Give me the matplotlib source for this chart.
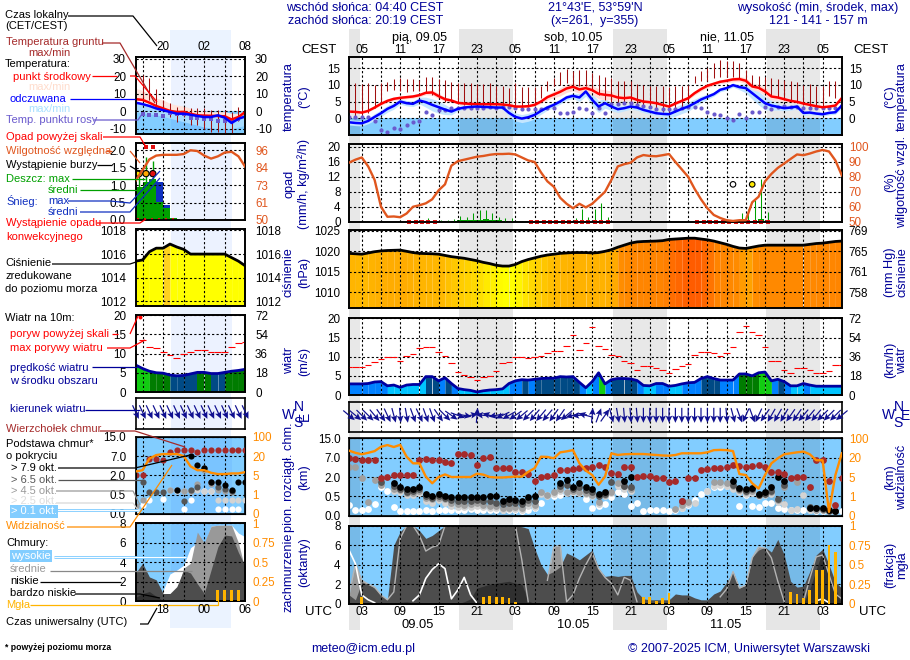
import numpy as np
import matplotlib
matplotlib.use('Agg')
import matplotlib.pyplot as plt
from matplotlib.colors import LinearSegmentedColormap, Normalize

plt.rcParams['font.family'] = ['Liberation Sans', 'DejaVu Sans']

W, H = 910, 660
na = float('nan')
SKY = '#82CDFF'
NAVY = '#000099'
HUM = '#E0561E'
VIS = '#FF8C00'
FOG = '#FFB400'
BROWN = '#A52A2A'
PURPLE = '#6A5ACD'
TICK_FS = 8.4

# ---- main chart, hourly, UTC hours counted from 00 on 09.05
hours = np.arange(1, 79)

temp_mid = [2.0,1.9,1.7,2.2,3.2,4.3,5.2,5.8,6.1,6.3,
            6.5,6.9,7.6,7.7,6.6,5.7,5.3,4.6,4.4,4.3,
            4.2,4.2,4.2,4.2,4.1,3.9,3.5,3.5,3.6,4.0,
            5.0,6.3,7.1,7.9,8.9,9.4,8.6,9.0,8.4,7.3,
            7.0,6.8,6.2,6.0,6.2,5.5,5.0,4.8,4.5,4.0,
            3.5,4.4,5.2,6.0,7.5,8.7,9.7,10.3,10.9,11.2,
            11.6,11.7,11.2,9.5,9.1,8.0,6.5,6.2,5.7,5.2,
            4.9,4.4,4.0,3.6,3.3,3.5,3.8,6.0]
temp_spread = [.3,.3,.3,.3,.4,.4,.5,.5,.5,.5,
               .5,.5,.6,.8,.8,.6,.5,.4,.3,.3,
               .3,.3,.3,.3,.3,.3,.3,.3,.3,.4,
               .6,.8,1.0,1.2,1.2,1.2,1.2,1.3,1.4,1.5,
               1.5,1.3,1.0,.9,.8,.6,.5,.4,.4,.3,
               .3,.4,.5,.5,.6,.6,.6,.6,.6,.6,
               .7,.8,.9,1.0,1.1,1.2,1.0,.8,.6,.5,
               .4,.3,.3,.3,.3,.3,.4,.4]
feel_mid = [-1.2,-1.4,-1.5,-.8,.4,1.5,2.8,3.7,5.0,4.5,
            4.3,5.3,4.8,4.0,3.3,2.6,2.0,2.8,3.2,3.4,
            3.5,3.4,3.3,3.2,3.2,1.6,.4,-.1,.3,1.0,
            2.2,3.2,4.0,5.0,6.2,6.7,6.2,8.0,5.5,3.5,
            4.5,3.5,2.7,3.0,3.5,3.2,2.5,2.0,1.5,1.3,
            1.2,2.0,2.8,3.5,4.5,5.6,6.4,7.2,8.5,9.0,
            9.9,9.3,9.0,7.5,6.0,4.5,3.8,3.4,3.0,3.2,
            3.5,1.6,1.7,1.4,1.2,1.6,1.8,3.8]
feel_spread = [.8,.8,.8,.8,1.0,1.0,1.0,1.0,.8,.8,
               .8,1.0,1.5,1.8,1.8,1.5,1.0,.6,.5,.5,
               .5,.5,.5,.5,.6,1.0,1.2,1.2,1.2,1.2,
               1.0,.8,.8,.8,.8,.8,1.2,1.4,1.8,1.8,
               1.5,1.2,1.0,.8,.8,.8,.8,.8,.8,.8,
               1.0,1.4,1.4,1.4,1.2,1.0,.8,.6,.6,.6,
               .6,.8,1.4,1.8,2.0,2.0,1.4,1.0,.8,.8,
               .8,.8,.6,.6,.6,.6,.6,.8]
soil_max = [10,10.5,10.3,10.5,10,10.5,10.7,11.7,12,11.7,
            11.7,11.5,12.3,12.3,11.7,11.5,10.8,10.5,10.5,10.5,
            10.3,10.3,10.5,9.7,9.7,9,10.5,9.3,9.3,9.3,
            9.7,11,12,13.7,14.7,14,14.3,14.3,13.5,12.9,
            12.3,12,11,11,11,10.3,10,9.7,9.7,9.7,
            9.3,9.5,9.7,10,12.7,14.2,15,16.5,17.3,17.2,
            17.1,16.5,14.5,13,12.7,12.3,12,11.7,11.5,11.2,
            10.7,10,10.2,9.7,9.7,11,11,6.5]
soil_min = [2,0,1,1.5,3,4.5,8,8.3,8,7.8,
            8,8,7.8,7,6,5,5,4.5,4,3.5,
            3.5,3.5,3.5,3,3,3,3,3,3.5,4,
            6,8,9.5,10,10.5,10,9.5,9.5,8,7,
            5.5,5,4.5,4.5,4.5,4,3.5,3,2.5,2,
            1.5,2,3.5,5,10.5,11,11,12,12.3,12.3,
            12.3,12,11.5,9.5,9,7.5,6.5,6.2,5.5,5,
            4.5,4,3.5,3,3,6.5,6,6]
dew_point = [.5,.4,.4,.3,-.9,-3.5,-4,-2.8,-3.2,-2,
             -1,-.7,1.8,1,2.5,2.5,3,3,3,3.2,
             3.2,3.2,3.3,3.2,3.3,3.5,3,2.9,2.8,2.8,
             2.8,3,3,1.7,1.5,1.8,3,2.8,1.6,3,
             1.7,4.3,4.2,4.5,4.5,4,3.7,3.3,2.9,2.8,
             2.7,2.9,3,3.5,3.5,3.1,2,1.3,1.1,.1,
             -.4,1.2,0,2,2,3.5,2.8,3.3,3.7,3.5,
             3.3,3.2,3.2,3,3,3,3.2,4]

humidity = [89.5,91.5,93,87,78,60,53.3,53.5,53,55.5,
            60,61,62.3,65,71,75,87.5,90.5,91.5,92.5,
            93.5,94,94.8,95.3,95.3,95.5,95,93,91,90,
            83,77,73.4,66,62,59,62,59.6,62,66,
            70,78,87,88.5,89.5,93,94.6,94,93.8,94.5,
            95.3,90,85,80,72,65,59,54.5,52.5,51,
            50.5,51,51,63,66.7,77,82,86,89,92,
            95,94.5,95.6,97,98,97,91,81]
rain_max = [0,0,0,0,0,0,0,0,0,0,
            0,0,.9,.3,.4,.4,.6,1.5,1.3,2.2,
            3,3,2.2,1.3,.9,.9,.1,.1,0,0,
            0,0,0,0,0,1,3.3,1.3,3.3,5,
            1.3,0,0,0,0,0,0,0,0,0,
            0,0,0,0,0,0,0,0,0,0,
            0,2.2,3.5,5.8,11.5,2.7,0,0,0,0,
            0,0,0,0,0,0,0,0]
rain_mean = [0,0,0,0,0,0,0,0,0,0,
             0,0,0,0,0,0,.3,.4,.45,.5,
             .55,.6,.45,.4,.2,0,0,0,0,0,
             0,0,0,0,0,0,0,0,0,0,
             0,0,0,0,0,0,0,0,0,0,
             0,0,0,0,0,0,0,0,0,0,
             0,0,0,.3,.7,0,0,0,0,0,
             0,0,0,0,0,0,0,0]
conv_hours = [10,11,12,13,14,29,30,31,32,33,34,35,36,37,38,39,40,41,
              55,56,57,58,59,60,61,62,63,64,65,66]
storm_hours = [61, 64]
storm_level = [10, 10]
storm_colors = ['white', '#FFE800']

pressure = [1019.5,1019.4,1019.3,1019.6,1019.9,1020.1,1020.2,1020.25,1020.3,1020,
            1019.7,1019.5,1019.45,1019.4,1019.3,1019,1018.7,1018.5,1018.3,1018,
            1017.7,1017.3,1017,1016.6,1016.4,1016.4,1016.8,1017.5,1018,1018.4,
            1018.8,1019.1,1019.3,1019.5,1019.6,1019.7,1019.7,1019.7,1019.6,1019.7,
            1020,1020.4,1021,1021.5,1022,1022.3,1022.4,1022.45,1022.5,1022.6,
            1022.9,1023,1023.1,1023.2,1023.2,1023,1022.8,1022.5,1022.1,1021.7,
            1021.2,1020.8,1020.7,1021,1021.3,1021.5,1021.5,1021.5,1021.5,1021.5,
            1021.5,1021.5,1021.7,1021.9,1022,1022.2,1022.4,1022.5]

wind = [2.9,2.9,2.9,3.0,3.4,3.5,2.4,2.6,2.0,2.6,
        2.75,2.75,4.8,4.8,3.7,4.5,3.0,1.7,1.4,1.2,
        .8,1.1,1.3,1.4,1.6,3.0,3.7,4.0,3.9,4.1,
        4.3,4.4,4.4,4.8,4.7,4.8,3.3,1.9,3.5,5.8,
        2.9,4.0,4.3,4.3,4.2,3.8,2.5,2.4,3.0,3.0,
        2.3,2.5,2.9,3.2,3.3,4.3,4.8,4.3,3.9,3.9,
        3.9,5.5,5.5,5.0,5.8,6.0,3.7,4.1,3.5,2.4,
        2.4,3.0,2.6,2.3,2.3,2.3,2.3,2.3]
gust = [7.25,7.4,7.4,7.8,8.7,9.3,9.9,9.9,9,10.3,
        10.7,12.3,12.5,12.5,11.2,10.1,8.3,5.9,5.1,4.6,
        3.8,4.6,5,6.2,8.3,8.6,9.9,9.9,9.6,9.9,
        10.3,11.1,11.6,11.6,12.7,15.6,11.7,13.5,17.7,12.7,
        12,10.4,10.2,8.8,8.3,6.5,7.6,7.6,7,6.5,
        5.7,6.7,7.6,8,10.4,11.2,11.2,11,10.2,10.9,
        12.5,16.4,18,16.4,15.6,12.5,8.8,9,6.6,5.7,
        7,7,6.5,5.7,5.7,6.2,7.8,7.8]
wind_dir = [310,310,315,315,320,325,335,345,355,350,
            340,335,340,340,325,315,305,290,280,260,
            185,95,105,80,65,60,55,50,45,40,
            40,40,35,35,50,75,85,105,185,200,
            215,345,350,355,355,355,0,0,0,0,
            0,0,0,0,0,0,0,0,0,355,
            345,340,25,340,25,35,30,30,30,35,
            35,40,40,40,45,45,45,50]

cloud_top = [7,6.55,6.3,6.3,6.3,1.9,2.1,2.6,2.4,2.4,
             2.4,6.5,6.6,6.3,6.4,6,5.7,8.5,8.5,8.3,
             5,7,7.1,4.4,4.3,4.3,3.3,3.3,2.9,1.7,
             2,2.3,2.5,3.9,3.9,4,4.3,4.2,4.5,5,
             4.7,3,2.9,4.5,4.7,2.1,2.2,2.2,1.9,1.9,
             1.6,1.7,.39,1.9,1.9,3.8,4,4.3,4.3,4.5,
             5.1,4.9,4.7,4.9,5.1,4.5,3.4,3.3,2.8,1.9,
             2.1,2.1,1.2,6.5,6.3,1.7,.28,1.9]
base_79 = [na,na,na,na,na,na,na,1.5,1.25,1.05,
           1.1,1.25,.65,.55,.65,.55,.49,.49,.49,.49,
           .49,.49,.55,.55,.38,.42,.41,.38,.49,.5,
           na,na,na,1.55,1.8,1.2,1.55,1.2,1.05,.65,
           .8,na,na,1.7,2.1,na,na,na,na,na,
           na,na,na,na,na,na,na,na,na,na,
           1.7,1.15,1.05,1.15,.65,.8,1.2,2.1,1.7,na,
           na,na,.2,.2,.19,.14,.13,na]
base_65 = [na,na,na,na,na,1.6,na,1.3,1.1,.85,
           .9,1.1,.52,.47,.55,.47,.4,.38,.38,.38,
           .4,.38,.38,.34,.3,.32,.32,.3,.4,.38,
           na,na,na,1.3,1.4,1.05,1.2,1,.85,.5,
           .66,1.6,na,1.3,1.25,na,na,na,na,na,
           na,na,.39,na,na,na,na,na,na,na,
           1.4,1.05,.95,1.05,.6,.7,.95,.43,1.4,na,
           na,na,.23,.19,.17,.13,.12,na]
base_45 = [4.7,4.7,1.9,.36,1.75,1.4,na,1.1,1,.75,
           .75,.9,.45,.42,.47,.42,.32,.3,.28,.3,
           .32,.28,.24,.24,.19,.21,.22,.19,.32,.28,
           .8,.6,.8,1.1,.85,.9,.85,.75,.6,.36,
           .6,.85,1.5,1.3,1.1,na,na,na,na,na,
           na,.17,.28,.36,na,na,na,1.6,1.6,1.5,
           1.3,1,.85,.9,.6,.75,.85,.4,1.2,na,
           1.6,na,.19,.16,.16,.14,.13,na]
base_25 = [na,na,na,na,na,na,na,.95,.85,.6,
           .6,.75,.38,.34,.4,.34,.26,.22,.22,.22,
           .24,.22,.2,.2,.16,.17,.18,.16,.25,.22,
           .7,.55,.7,.95,.75,.8,.75,.65,.5,.3,
           .5,.75,1.3,1.1,.9,na,na,na,na,na,
           na,na,.2,.3,.32,na,.9,1.3,1.4,1.3,
           1.1,.85,.7,.75,.5,.6,.7,.35,.3,.16,
           .18,.6,.16,.14,.14,.13,.13,na]
base_01 = [.28,.16,.14,.17,.3,1.2,.9,.22,.12,.12,
           .13,.13,.14,.12,.14,.14,.14,.14,.14,.17,
           .14,.14,.14,.14,.14,.14,.14,.12,.16,.2,
           .32,.6,.55,.6,.8,.8,.85,.42,.2,.24,
           .3,.49,.85,.7,.24,.33,.12,.14,.14,.14,
           .12,.15,.19,.28,.4,.66,.9,1.2,1.2,1.3,
           1.12,.26,.6,.26,.22,.32,.34,.21,.17,.14,
           .14,.14,.14,.12,.12,.12,.12,.12]
visibility = [49,40,34,40,47,65,72,64,73,24,
              15.6,15.6,5.3,3.7,5,7,5,5,5,5,
              7.6,6.8,5,4.9,4.9,5,5.3,5.3,9,11.8,
              24,23,19.5,42,46,51,15.6,10,6.5,3.4,
              5.3,38,31,34,35,35,35,33,31,29,
              28,31,38,38,38,38,42,51,52,51,
              47,7.3,6.5,3.7,2.6,6.5,15.6,19.5,34,38,
              42,45,34,18,18,.2,6.5,38]

cloud_low = [.9,.4,2.2,2,1.6,.9,.4,6,7.4,8,
             8,7.5,6.7,7,7.5,8,8,8,8,8,
             8,8,8,8,8,8,8,7.9,7.7,5.7,
             4,3,3.3,3.8,5.2,4.9,4.5,5,5.5,3.6,
             2.8,2.9,2.8,2.9,2.9,1.2,.5,.4,.4,.4,
             .4,1,.9,.9,.6,.4,.4,1,1.3,2.2,
             3.3,1.6,1.9,4.8,5.5,5.8,5.3,6.6,5,2.3,
             1.7,1.8,3.3,5,5.6,4,2.2,1.6]
cloud_mid = [.9,4.1,2.4,2,1.7,.9,.4,1.2,6.7,8,
             8,7,5.4,5.8,6,8,8,8,8,8,
             8,8,8,8,8,8,8,4.5,.2,0,
             0,2.4,5.8,6,.2,.9,2.6,4,5.2,3.6,
             2.7,2.1,.9,2.7,2.4,.2,0,0,0,0,
             0,0,0,0,0,0,0,0,.7,1.5,
             3.3,1.6,1.9,4.7,5.8,5.7,4.7,2.3,.2,0,
             0,.2,2.6,4.8,5,3,1,.5]
cloud_high = [5.5,4.1,.9,.4,.1,0,0,0,0,0,
              .3,.9,2.6,3.5,4.1,3.6,.5,1.4,2.7,.9,
              .05,0,0,0,0,0,0,0,0,0,
              0,0,0,0,0,0,0,0,0,0,
              0,0,0,0,0,0,0,0,0,0,
              0,0,0,0,0,0,0,0,0,0,
              0,0,0,0,0,0,0,0,0,0,
              0,0,0,.3,.5,.1,0,0]
cloud_vlow = [0,0,0,0,0,0,0,0,.15,.2,
              .1,0,0,0,0,0,0,0,.2,.5,
              1.6,1.8,2,2.1,2.2,2.3,2.1,2,.3,0,
              0,0,0,0,0,0,0,0,0,0,
              0,0,0,0,0,0,0,0,0,0,
              0,0,0,0,0,0,0,0,0,0,
              0,0,0,0,0,0,0,0,0,0,
              0,0,1.5,3.5,5.4,3,1.5,0]
fog = [0,0,.09,0,0,0,0,0,0,0,
       0,0,0,0,0,0,0,0,0,0,
       0,.08,.1,.09,.09,.07,.02,0,0,0,
       0,0,0,0,0,0,0,0,0,0,
       0,0,0,0,0,0,.08,.09,.04,.07,
       .14,0,0,0,0,0,0,0,0,0,
       0,0,0,0,0,0,0,0,0,.15,
       .12,.07,.18,.43,.43,.75,.66,0]

night_starts = [1, 18.3, 42.3, 66.3]
night_ends = [2.67, 26.67, 50.67, 74.67]

local_labels = ['05','11','17','23','05','11','17','23','05','11','17','23','05']
utc_labels = ['03','09','15','21','03','09','15','21','03','09','15','21','03']
label_hours = [3,9,15,21,27,33,39,45,51,57,63,69,75]

# ---- legend chart on the left, hours 14..30
l_hours = np.arange(14, 31)
l_temp = [6.9,6.5,4.9,3,1.6,.2,-.4,-.4,-1.4,-2.3,-2.5,-2.6,-2.7,-2.9,-4.7,-3.3,-.4]
l_temp_hi = [13,12,10,7.5,6.5,4.5,3.5,3,1.6,.6,.2,-.2,-.2,-.2,-1.2,-1.2,.6]
l_feel = [4.9,4.1,3,1.6,.6,-.4,-1.4,-1.4,-2,-2.7,-3.3,-3.3,-2.3,-3.7,-6.7,-4.3,-3]
l_feel_lo = [-.5,-1,-1.5,-2,-3,-4,-5,-6,-7,-8,-9,-9.5,-10,-10,-10,-9,-8]
l_dew = [na,-1.4,-2,-2.3,-2.7,-1,-1.4,-1.8,-3.7,-3.7,-4.3,-4.7,-5.3,-5.7,-5.7,-4.3,na]
l_soil_max = [na,20.6,19,13,6.5,4.5,2.5,2.5,1.6,1.6,1.6,1,.6,.6,-.4,2.5,na]
l_soil_min = [na,7.5,6.5,2.5,1,-3.3,-6.3,-3.3,-8,-8,-10,-11.6,-12,-13,-13,-5.7,na]
l_rain = [.95,1.1,1.17,.52,.33,.05,0,0,0,0,0,0,0,0,0,0]
l_snow = [.95,1.1,1.17,1.08,.43,.05,0,0,0,0,0,0,0,0,0,0]
l_rain_top = [1.33,1.8,1.7]
l_hum = [76,83,90,92.5,93,93,93,93.5,96,95.5,92.5,90.5,92,94.5,95,92,85]
l_press = [1015.4,1015.5,1016.2,1016.5,1016.5,1016.85,1016.6,1016.4,1016,1016,1016,1016,1016,1016,1015.7,1015.4,1015]
l_wind = [7,6.1,5.4,5,4.9,4.4,4.2,4.3,4.7,5.1,5.1,4.8,4.8,5.1,5.4,5.6,5.9]
l_gust = [na,13.5,11.6,11.3,10.5,9.6,8.9,9.8,10.5,10.9,10.9,10.5,10.5,10.5,11.6,12.6,12.9]
l_dir = [335,335,335,335,335,335,335,335,335,335,335,335,335,335,335,335,335]
l_top = [2,2,6.3,6.3,5.9,8.6,9.6,9.6,9.6,8.6,9.6,9.6,9.6,9.6,9.6,9.6,9.6]
l_79 = [na,na,na,na,na,na,.9,na,6.9,4.75,3.9,1.5,1.5,1.23,.9,1.5,1.5]
l_65 = [na,1.5,.67,.67,.67,na,na,.34,.9,1.1,3.9,1.5,1.1,.95,.8,na,na]
l_45 = [.2,.36,na,na,na,.9,.9,.8,.75,1.3,3.3,1.3,.9,.75,.7,na,na]
l_25 = [na,na,na,na,na,.85,.75,.75,.75,.85,.8,.8,.35,.35,.35,.35,.35]
l_01 = [.1,.23,.36,na,.38,na,na,.13,.36,na,.8,.8,.13,.13,.13,.13,na]
l_vis = [8,9,18,24,28,28,28,20,12,9,9,7,6,6,6.5,6.5,7.5]
l_low = [2.9,3.9,2.5,2.2,.8,.8,1.5,3.2,2.9,1.8,.8,3.2,5.6,6.8,6.7,5,3.6]
l_mid = [0,.8,.5,.3,0,0,1,3.4,3.9,7.1,6,7.7,7.8,7.8,7.8,6,3.2]
l_high = [0,0,0,0,1.1,2.8,3.2,3.7,5.5,6,5.8,7.7,7.8,7.8,7.8,7,6.6]
l_vlow = [.4,.8,1,.5,.1,0,0,0,0,0,0,0,0,0,0,0,0]
l_fog = [0,0,0,0,0,0,0,0,0,0,0,0,.145,.145,.145,.145,0]

fig = plt.figure(figsize=(W / 100, H / 100), dpi=100, facecolor='white')


def to_fig(left, top, right, bottom):
    return [left / W, 1 - bottom / H, (right - left) / W, (bottom - top) / H]


bg = fig.add_axes([0, 0, 1, 1], zorder=0)
bg.set_xlim(0, W)
bg.set_ylim(H, 0)
bg.axis('off')
for x0, x1 in [(349, 360), (459, 513), (613, 667), (766, 820)]:
    bg.axvspan(x0, x1, ymin=(H - 630) / H, ymax=(H - 29) / H, color='#E6E6E6', lw=0)
bg.axvspan(170, 231, ymin=(H - 628) / H, ymax=(H - 30) / H, color='#EBF3FF', lw=0)


def panel(box, xlim, ylim, yticks, ylabels, face='white', night='main', grid_y=True):
    ax = fig.add_axes(to_fig(*box), zorder=2)
    ax.set_facecolor(face)
    ax.set_xlim(*xlim)
    ax.set_ylim(*ylim)
    ax.set_xticks(np.arange(3, 79, 3) if night == 'main' else [15, 18, 21, 24, 27])
    ax.tick_params(axis='x', length=0, labelbottom=False)
    ax.set_yticks(yticks)
    ax.set_yticklabels(ylabels)
    ax.tick_params(axis='y', length=0, pad=6 if night == 'main' else 7, labelsize=TICK_FS)
    ax.minorticks_off()
    ax.grid(True, axis='x', color='k', lw=.8, ls=(0, (2, 2)))
    if grid_y:
        ax.grid(True, axis='y', color='k', lw=.8, ls=(0, (2, 2)))
    ax.set_axisbelow(False)
    for s in ax.spines.values():
        s.set_linewidth(1.2)
    if night == 'main':
        for a, b in zip(night_starts, night_ends):
            ax.axvspan(a, b, color='k', alpha=.09, lw=0, zorder=.5)
    else:
        ax.axvspan(19.1, 28, color='#3070FF', alpha=.09, lw=0, zorder=.5)
    return ax


def right_axis(ax, ylim, ticks, labels, color='k', pad=5):
    tw = ax.twinx()
    tw.set_ylim(*ylim)
    tw.set_yticks(ticks)
    tw.set_yticklabels(labels, color=color)
    tw.tick_params(axis='y', length=0, pad=pad, labelsize=TICK_FS)
    tw.minorticks_off()
    for s in tw.spines.values():
        s.set_linewidth(1.2)
    return tw


def wind_color(v):
    if v < 2.8:
        return '#00C4FF'
    if v < 4:
        return '#0080FF'
    if v < 4.9:
        return '#004A85'
    if v < 5.8:
        return '#007C00'
    return '#11CC11'


press_cmap = LinearSegmentedColormap.from_list('press', [
    (0, '#FFFF00'), (.24, '#FFD800'), (.46, '#FFB400'), (.62, '#FFA800'),
    (.68, '#FF8C00'), (.9, '#FF8400'), (1, '#FF5C00')])
press_norm = Normalize(1016.4, 1023.2)

YL_TEMP = (-5, 18.2)
YL_RAIN = (0, 20.8)
YL_PRESS = (1006.1, 1025.2)
YL_WIND = (0, 20.2)
MAIN_X = (1, 78)
LEFT_X = (14, 30)
B_TEMP, B_RAIN, B_PRESS, B_WIND, B_DIR, B_BASE, B_CLOUD = (
    (349, 57.3, 841.8, 135), (349, 144, 841.8, 221.7), (349, 230, 841.8, 308.3),
    (349, 317.7, 841.8, 395), (349, 401.7, 841.8, 432), (349, 438.3, 841.8, 515.7),
    (349, 525.7, 841.8, 603.7))


def km_fwd(v):
    return np.interp(v, [0, .5, 2, 7, 15], [0, 1, 2, 3, 4])


def km_inv(v):
    return np.interp(v, [0, 1, 2, 3, 4], [0, .5, 2, 7, 15])


def vis_fwd(v):
    return np.interp(v, [0, 1, 5, 20, 100], [0, 1, 2, 3, 4])


def vis_inv(v):
    return np.interp(v, [0, 1, 2, 3, 4], [0, 1, 5, 20, 100])


def draw_base_panel(box, xlim, night, xs, top, b79, b65, b45, b25, b01, vis, size):
    ax = panel(box, xlim, (0, 15), [0, .5, 2, 7, 15], ['0.0', '0.5', '2.0', '7.0', '15.0'], face=SKY, night=night)
    ax.set_yscale('function', functions=(km_fwd, km_inv))
    ax.set_ylim(0, 15)
    ax.set_yticks([0, .5, 2, 7, 15])
    ax.set_yticklabels(['0.0', '0.5', '2.0', '7.0', '15.0'])
    ax.minorticks_off()
    for vals, col in [(b01, 'white'), (b25, '#D3D3D3'), (b45, '#A0A0A0'), (b65, '#555555'),
                      (b79, 'black'), (top, BROWN)]:
        ax.scatter(xs, vals, s=size, color=col, lw=0, zorder=3, clip_on=True)
    tw = ax.twinx()
    tw.set_yscale('function', functions=(vis_fwd, vis_inv))
    tw.set_ylim(0, 100)
    tw.set_yticks([0, 1, 5, 20, 100])
    tw.set_yticklabels(['0', '1', '5', '20', '100'], color=VIS)
    tw.tick_params(axis='y', length=0, pad=5, labelsize=TICK_FS)
    tw.minorticks_off()
    tw.plot(xs, vis, color=VIS, lw=1.7, zorder=4)
    return ax


def draw_cloud_panel(box, xlim, night, xs, mid, low, vlow, high, foglev, high_fill, fog_w):
    ax = panel(box, xlim, (0, 8), [0, 2, 4, 6, 8], ['0', '2', '4', '6', '8'], face=SKY, night=night)
    if high_fill:
        ax.fill_between(xs, high, color='white', lw=0, zorder=1)
    ax.fill_between(xs, mid, color='#999999', lw=0, zorder=1.1)
    ax.fill_between(xs, low, color='#4D4D4D', lw=0, zorder=1.2)
    ax.fill_between(xs, vlow, color='#303030', lw=0, zorder=1.3)
    if not high_fill:
        ax.plot(xs, np.ma.masked_equal(mid, 0), color='#B4B4B4', lw=1, zorder=2.2)
        ax.plot(xs, np.ma.masked_equal(high, 0), color='white', lw=1.2, zorder=2.3)
    tw = right_axis(ax, (0, 1), [0, .25, .5, .75, 1], ['0', '0.25', '0.5', '0.75', '1'], VIS)
    tw.bar(xs, foglev, width=fog_w, color=FOG, lw=0, zorder=3)
    return ax


def draw_wind_dir(box, xlim, night, xs, dirs):
    ax = panel(box, xlim, (0, 1), [], [], night=night, grid_y=False)
    rad = np.radians(dirs)
    ax.quiver(xs, np.full(len(xs), .55), -np.sin(rad) * 15, -np.cos(rad) * 15, angles='uv', scale_units='dots',
              scale=1, units='dots', width=1.2, headwidth=5.5, headlength=6, headaxislength=5,
              pivot='mid', color='#101090', clip_on=False, zorder=3)
    return ax


def fill_wind(ax, xs, vals):
    for i in range(len(xs) - 1):
        ax.fill_between(xs[i:i + 2], vals[i:i + 2], color=wind_color(vals[i]), lw=0, zorder=1, antialiased=False)
    ax.plot(xs, vals, color='#0000A0', lw=2, zorder=3)


# ---- main chart
ax = panel(B_TEMP, MAIN_X, YL_TEMP, [0, 5, 10, 15], ['0', '5', '10', '15'])
ax.axhspan(-5, 0, color=SKY, lw=0, zorder=.3)
ax.fill_between(hours, np.array(feel_mid) - feel_spread, np.array(feel_mid) + feel_spread, color='#C4E6FF', lw=0, zorder=.8)
ax.fill_between(hours, np.array(temp_mid) - temp_spread, np.array(temp_mid) + temp_spread, color='#FFDDD8', lw=0, zorder=.9)
ax.vlines(hours, soil_min, soil_max, color='#A01010', lw=.75, zorder=2.6)
ax.scatter(hours, dew_point, s=9, color=PURPLE, lw=0, zorder=2.7)
ax.plot(hours, temp_mid, color='#FF0000', lw=1.8, zorder=3)
ax.plot(hours, feel_mid, color='#0000FF', lw=1.8, zorder=3)
right_axis(ax, YL_TEMP, [0, 5, 10, 15], ['0', '5', '10', '15'])

ax = panel(B_RAIN, MAIN_X, YL_RAIN, [0, 4, 8, 12, 16, 20], ['0', '4', '8', '12', '16', '20'])
ax.vlines(hours + .4, 0, rain_max, color='#00A000', lw=.75, zorder=2.6)
ax.bar(hours + .4, rain_mean, width=1, color='#00A000', lw=0, zorder=2)
ax.scatter(np.array(conv_hours) + .4, np.zeros(len(conv_hours)) + .05, marker='s', s=5, color='#E01010', lw=0, zorder=3, clip_on=False)
ax.scatter(storm_hours, storm_level, s=16, c=storm_colors, edgecolors='k', linewidths=.8, zorder=4)
tw = right_axis(ax, (50, 102), [50, 60, 70, 80, 90, 100], ['50', '60', '70', '80', '90', '100'], HUM)
tw.plot(hours, humidity, color=HUM, lw=1.7, zorder=3)

ax = panel(B_PRESS, MAIN_X, YL_PRESS, [1010, 1015, 1020, 1025], ['1010', '1015', '1020', '1025'])
for i in range(len(hours) - 1):
    ax.fill_between(hours[i:i + 2], pressure[i:i + 2], YL_PRESS[0], color=press_cmap(press_norm(pressure[i])), lw=0, zorder=1, antialiased=False)
ax.plot(hours, pressure, color='k', lw=2, zorder=3)
right_axis(ax, YL_PRESS, [1010, 1015, 1020, 1025], ['758', '761', '765', '769'])

ax = panel(B_WIND, MAIN_X, YL_WIND, [0, 5, 10, 15, 20], ['0', '5', '10', '15', '20'])
fill_wind(ax, hours, wind)
ax.hlines(gust, hours - .5, hours + .5, color='#FF0000', lw=.8, zorder=3)
right_axis(ax, (0, 72.7), [0, 18, 36, 54, 72], ['0', '18', '36', '54', '72'])

draw_wind_dir(B_DIR, MAIN_X, 'main', hours, wind_dir)
draw_base_panel(B_BASE, MAIN_X, 'main', hours, cloud_top, base_79, base_65, base_45, base_25, base_01, visibility, 24)
draw_cloud_panel(B_CLOUD, MAIN_X, 'main', hours, cloud_mid, cloud_low, cloud_vlow, cloud_high, fog, False, .45)

# ---- legend chart
ax = panel((135.7, 57, 245.3, 134), LEFT_X, (-13, 31), [-10, 0, 10, 20, 30], ['-10', '0', '10', '20', '30'], night='left')
ax.axhspan(-13, 0, color=SKY, lw=0, zorder=.3)
ax.fill_between(l_hours, l_feel_lo, np.array(l_feel) + .5, color='#A8DCFF', lw=0, zorder=.8)
ax.fill_between(l_hours, np.array(l_temp) - .5, l_temp_hi, color='#FFE4DC', lw=0, zorder=.9)
ax.vlines(l_hours, l_soil_min, l_soil_max, color='#A01010', lw=.75, zorder=2.6)
ax.scatter(l_hours, l_dew, s=9, marker='s', color=PURPLE, lw=0, zorder=2.7)
ax.plot(l_hours, l_temp, color='#FF0000', lw=1.8, zorder=3)
ax.plot(l_hours, l_feel, color='#0000FF', lw=1.8, zorder=3)
right_axis(ax, (-13, 31), [-10, 0, 10, 20, 30], ['-10', '0', '10', '20', '30'], pad=7)

ax = panel((135.7, 143.3, 245.3, 220), LEFT_X, (0, 2.2), [0, .5, 1, 1.5, 2], ['0.0', '0.5', '1.0', '1.5', '2.0'], night='left')
ax.bar(l_hours[:-1], l_snow, width=1, align='edge', color='#1030C0', lw=0, zorder=1)
ax.bar(l_hours[:-1], l_rain, width=1, align='edge', color='#00A000', lw=0, zorder=1.1)
ax.vlines(l_hours[:3] + .5, l_rain[:3], l_rain_top, color='#00A000', lw=1, zorder=2.6)
ax.scatter(l_hours[1:3] + .5, [2.1, 2.1], marker='s', s=6, color='#E01010', lw=0, zorder=3)
ax.scatter(l_hours[:3] + .5, [1.33, 1.33, 1.33], s=20, c=['#FFE800', '#FFA800', '#E01010'], edgecolors='k', linewidths=.8, zorder=4)
ax.scatter(l_hours[:6] + .4, np.zeros(6) + .02, marker='s', s=4, color='#E01010', lw=0, zorder=3, clip_on=False)
tw = right_axis(ax, (50, 100.6), [50, 61.5, 73, 84.5, 96], ['50', '61', '73', '84', '96'], HUM, pad=7)
tw.plot(l_hours, l_hum, color=HUM, lw=1.7, zorder=3)

ax = panel((135.7, 229.3, 245.3, 306), LEFT_X, (1011.6, 1018.1), [1012, 1014, 1016, 1018], ['1012', '1014', '1016', '1018'], night='left')
for i in range(len(l_hours) - 1):
    ax.fill_between(l_hours[i:i + 2], l_press[i:i + 2], 1011.6, color='#FFD21E' if l_press[i + 1] > 1016.7 else '#FFFF00', lw=0, zorder=1, antialiased=False)
ax.plot(l_hours, l_press, color='k', lw=2, zorder=3)
right_axis(ax, (1011.6, 1018.1), [1012, 1014, 1016, 1018], ['1012', '1014', '1016', '1018'], pad=7)

ax = panel((135.7, 315, 245.3, 392), LEFT_X, (0, 20), [0, 5, 10, 15, 20], ['0', '5', '10', '15', '20'], night='left')
fill_wind(ax, l_hours, l_wind)
ax.hlines(l_gust, l_hours - .5, l_hours + .5, color='#FF0000', lw=.8, zorder=3)
ax.scatter([14.6], [19.6], s=8, color='#FF0000', lw=0, zorder=3)
right_axis(ax, (0, 72), [0, 18, 36, 54, 72], ['0', '18', '36', '54', '72'], pad=7)

draw_wind_dir((135.7, 398, 245.3, 429.3), LEFT_X, 'left', l_hours, l_dir)
draw_base_panel((135.7, 436.7, 245.3, 514), LEFT_X, 'left', l_hours, l_top, l_79, l_65, l_45, l_25, l_01, l_vis, 20)
draw_cloud_panel((135.7, 523.3, 245.3, 601.3), LEFT_X, 'left', l_hours, l_mid, l_low, l_vlow, l_high, l_fog, True, .42)

# ---- everything that is text or a leader line, placed in picture pixels
ov = fig.add_axes([0, 0, 1, 1], zorder=10)
ov.set_xlim(0, W)
ov.set_ylim(H, 0)
ov.axis('off')


def label(x, y, s, color='k', ha='left', fs=9, **kw):
    ov.text(x, y, s, color=color, ha=ha, va='center', fontsize=fs, **kw)


def side(x, y, s, color='k', ha='left', fs=8, **kw):
    label(x, y, s, color, ha, fs, **kw)


def leader(xs, ys, color='k', lw=.9):
    ov.plot(xs, ys, color=color, lw=lw, solid_capstyle='butt')


leader([68, 133, 157], [16, 16, 46])
leader([103, 120, 155], [43, 43, 103], BROWN)
leader([92, 117], [76, 76], 'red')
leader([130, 135, 157], [76, 76, 102], 'red')
leader([70, 135], [99, 99], '#0000FF')
leader([94, 138, 142], [120, 120, 114], PURPLE)
leader([103, 140, 146], [137, 137, 147], 'red')
leader([106, 112], [151, 151], HUM)
leader([130, 140], [151, 163], HUM)
leader([97, 112], [165, 165])
leader([130, 140], [166, 172])
leader([72, 145], [179, 179], '#00A000')
leader([80, 145], [190, 190], '#00A000')
leader([68, 110, 130, 160], [201, 201, 203, 171], '#1030C0')
leader([80, 130, 160], [212, 212, 178], '#1030C0')
leader([97, 140, 146], [223, 223, 219], 'red')
leader([52, 130, 136], [264, 264, 262])
leader([112, 118], [334, 334], 'red')
leader([130, 138], [334, 316], 'red')
leader([107, 130, 145], [348, 348, 340], 'red')
leader([92, 137], [367, 367], NAVY)
leader([85, 140], [410, 410], NAVY)
leader([100, 135, 185], [431, 431, 447], BROWN)
leader([58, 135, 190], [468, 468, 455])
leader([58, 143], [480, 480], '#555555')
leader([56, 133, 140], [491, 491, 505], '#999999')
leader([56, 133, 138], [503, 503, 510], '#D8D8D8')
leader([56, 138], [510, 510], SKY, 2)
leader([56, 138], [510, 510], 'white', .7)
leader([67, 130, 172], [527, 527, 465], VIS)
leader([54, 186], [557, 557], SKY, 2)
leader([54, 186], [557, 557], 'white', .7)
leader([50, 192], [571, 571], '#888888')
leader([40, 121], [582, 582])
leader([75, 140, 160], [594, 594, 598])
leader([30, 218, 218], [605, 605, 600], FOG)
leader([140, 148, 157], [624, 624, 608])

side(5, 14.5, 'Czas lokalny')
side(5, 26, '(CET/CEST)')
side(6, 42, 'Temperatura gruntu', BROWN)
side(28, 52.5, 'max/min', BROWN)
side(5, 64, 'Temperatura:')
side(13, 76.5, 'punkt środkowy', 'red')
side(28, 87, 'max/min', '#FFDCCC')
side(10, 98.5, 'odczuwana', '#0000FF')
side(28, 108.5, 'max/min', '#A8E0FF')
side(6, 120, 'Temp. punktu rosy', PURPLE)
side(6, 137, 'Opad powyżej skali', 'red')
side(6, 151, 'Wilgotność względna', HUM)
side(6, 165, 'Wystąpienie burzy')
side(6, 179, 'Deszcz: max', '#00A000')
side(48, 190, 'średni', '#00A000')
side(6, 201, 'Śnieg:', '#1030C0')
side(48, 201, 'max', '#1030C0')
side(48, 212, 'średni', '#1030C0')
side(6, 223, 'Wystąpienie opadu', 'red')
side(6, 237, 'konwekcyjnego', 'red')
side(5, 263, 'Ciśnienie')
side(5, 276, 'zredukowane')
side(5, 289, 'do poziomu morza')
side(5, 318, 'Wiatr na 10m:')
side(10, 334, 'poryw powyżej skali', 'red')
side(10, 348, 'max porywy wiatru', 'red')
side(10, 368, 'prędkość wiatru', NAVY)
side(10, 381, 'w środku obszaru', NAVY)
side(10, 409, 'kierunek wiatru', NAVY)
side(6, 429, 'Wierzchołek chmur', BROWN)
side(6, 444, 'Podstawa chmur*')
side(6, 456, 'o pokryciu')
side(11, 468, '> 7.9 okt.')
side(11, 480, '> 6.5 okt.', '#555555')
side(11, 491, '> 4.5 okt.', '#999999')
side(11, 501, '> 2.5 okt.', '#DDDDDD')
side(11, 511.5, '> 0.1 okt.', 'white', bbox=dict(facecolor=SKY, edgecolor='none', pad=.8))
side(6, 526, 'Widzialność', VIS)
side(6, 543, 'Chmury:')
side(11, 556, 'wysokie', 'white', bbox=dict(facecolor=SKY, edgecolor='none', pad=.8))
side(10, 569, 'średnie', '#999999')
side(10, 581, 'niskie')
side(10, 593, 'bardzo niskie')
side(6, 605, 'Mgła', FOG)
side(6, 622, 'Czas uniwersalny (UTC)')
label(5, 648, '* powyżej poziomu morza', fs=6.2, fontweight='bold')

for x, s in zip([163, 204, 245], ['20', '02', '08']):
    label(x, 47, s, ha='center', fs=TICK_FS)
for x, s in zip([163, 204, 245], ['18', '00', '06']):
    label(x, 610, s, ha='center', fs=TICK_FS)

label(286, 8, 'wschód słońca: 04:40 CEST', NAVY)
label(288, 21, 'zachód słońca: 20:19 CEST', NAVY)
label(595, 8, "21°43'E, 53°59'N", NAVY, ha='center')
label(595, 21, '(x=261,  y=355)', NAVY, ha='center')
label(818, 8, 'wysokość (min, środek, max)', NAVY, ha='center')
label(818, 21, '121 - 141 - 157 m', NAVY, ha='center')
label(419, 38, 'pią, 09.05', ha='center')
label(573, 38, 'sob, 10.05', ha='center')
label(727, 38, 'nie, 11.05', ha='center')
label(319, 50, 'CEST', ha='center', fs=9.5)
label(871, 50, 'CEST', ha='center', fs=9.5)
label(318, 612, 'UTC', ha='center', fs=9.5)
label(872, 612, 'UTC', ha='center', fs=9.5)
for hr, loc, utc in zip(label_hours, local_labels, utc_labels):
    x = 349 + (hr - 1) * 6.4
    label(x, 50, loc, ha='center', fs=TICK_FS)
    label(x, 612, utc, ha='center', fs=TICK_FS)
label(418, 625, '09.05', ha='center', fs=9.3)
label(573, 625, '10.05', ha='center', fs=9.3)
label(726, 625, '11.05', ha='center', fs=9.3)
label(363, 649, 'meteo@icm.edu.pl', NAVY, ha='center')
label(749, 649, '© 2007-2025 ICM, Uniwersytet Warszawski', NAVY, ha='center')

for x, y, s in [(289, 97, 'temperatura'), (304, 97, '(°C)'), (289, 184, 'opad'),
                (304, 184, '(mm/h, kg/m²/h)'), (289, 272, 'ciśnienie'), (304, 272, '(hPa)'),
                (289, 361, 'wiatr'), (304, 361, '(m/s)'), (289, 477, 'pion. rozciągł. chm.'),
                (304, 477, '(km)'), (289, 572, 'zachmurzenie'), (304, 562, '(oktanty)'),
                (902, 97, 'temperatura'), (890, 97, '(°C)'), (902, 182, 'wilgotność wzgl.'),
                (890, 182, '(%)'), (902, 272, 'ciśnienie'), (890, 272, '(mm Hg)'),
                (902, 360, 'wiatr'), (890, 360, '(km/h)'), (902, 477, 'widzialność'),
                (890, 477, '(km)'), (902, 565, 'mgła'), (890, 565, '(frakcja)')]:
    ov.text(x, y, s, color=NAVY, ha='center', va='center', rotation=90, fontsize=9.2)

for x0, e_rot in [(289, 90), (889, 0)]:
    label(x0, 415, 'W', NAVY, ha='center', fs=10)
    label(x0 + 10, 407, 'N', NAVY, ha='center', fs=10)
    label(x0 + 9, 423, 'S', NAVY, ha='center', fs=10)
    ov.text(x0 + 16, 416, 'E', color=NAVY, ha='center', va='center', fontsize=10, rotation=e_rot)

fig.savefig('out.png', dpi=100)
